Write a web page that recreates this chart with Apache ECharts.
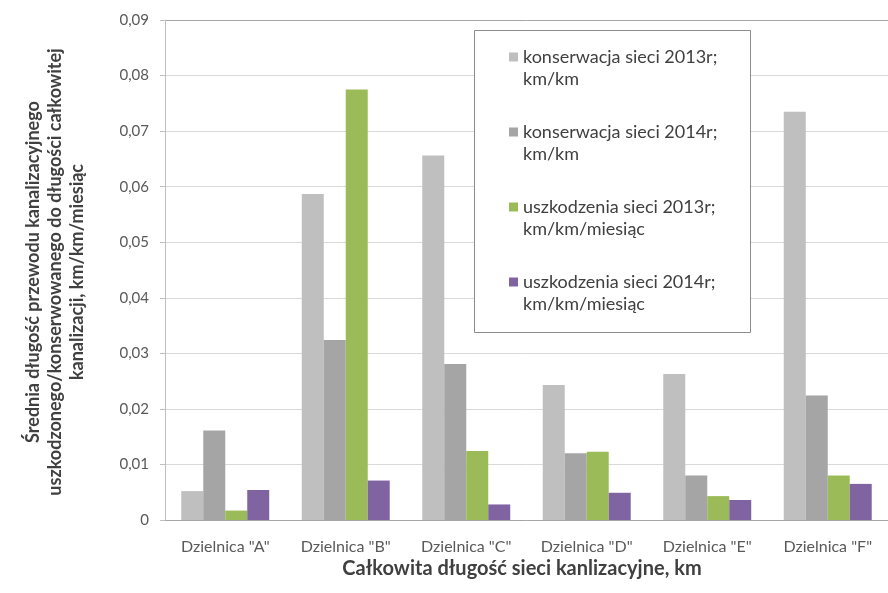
<!DOCTYPE html>
<html>
<head>
<meta charset="utf-8">
<title>Dzielnice - konserwacja i uszkodzenia sieci</title>
<script src="https://cdn.jsdelivr.net/npm/echarts@6/dist/echarts.min.js"></script>
<style>
  html, body { margin: 0; padding: 0; background: #fff; }
  #chart { width: 888px; height: 593px; }
</style>
</head>
<body>
<div id="chart"></div>
<script>
// dane
var dzielnice = ['Dzielnica "A"', 'Dzielnica "B"', 'Dzielnica "C"', 'Dzielnica "D"', 'Dzielnica "E"', 'Dzielnica "F"'];
var nazwySerii = [
    'konserwacja sieci 2013r; km/km',
    'konserwacja sieci 2014r; km/km',
    'uszkodzenia sieci 2013r; km/km/miesiąc',
    'uszkodzenia sieci 2014r; km/km/miesiąc'
];
var konserwacja2013 = [0.0052, 0.0587, 0.0656, 0.0243, 0.0263, 0.0735];
var konserwacja2014 = [0.0161, 0.0324, 0.0281, 0.0120, 0.0080, 0.0224];
var uszkodzenia2013 = [0.0017, 0.0775, 0.0124, 0.0123, 0.0043, 0.0080];
var uszkodzenia2014 = [0.0054, 0.0071, 0.0028, 0.0049, 0.0036, 0.0065];
var kolory = ['#bfbfbf', '#a5a5a5', '#9bbb59', '#8064a2'];

var wykres = echarts.init(document.getElementById('chart'));
var font = 'Lato, "Open Sans", sans-serif';

var dane = [konserwacja2013, konserwacja2014, uszkodzenia2013, uszkodzenia2014];
var serie = [];
for (var i = 0; i < dane.length; i++) {
    serie.push({
        name: nazwySerii[i],
        type: 'bar',
        data: dane[i],
        barGap: '0%',
        barCategoryGap: '27%',
        itemStyle: { color: kolory[i] }
    });
}

// linie siatki - najwyzsza ciemniejsza (ramka)
var koloryLinii = ['#d9d9d9', '#d9d9d9', '#d9d9d9', '#d9d9d9', '#d9d9d9',
                   '#d9d9d9', '#d9d9d9', '#d9d9d9', '#d9d9d9', '#a6a6a6'];

var option = {
    animation: false,
    color: kolory,
    grid: { left: 165, top: 20, width: 739, height: 500 },
    legend: {
        orient: 'vertical',
        left: 509,
        top: 24,
        padding: 0,
        itemWidth: 9,
        itemHeight: 9,
        itemGap: 9,
        icon: 'rect',
        z: 5,
        data: nazwySerii,
        formatter: function (n) { return '\n' + n.replace('; ', ';\n'); },
        textStyle: { fontFamily: font, fontSize: 18, color: '#404040', lineHeight: 22 }
    },
    graphic: [
        {
            type: 'rect', z: 3,
            shape: { x: 474.5, y: 30.5, width: 276, height: 302 },
            style: { fill: '#fff', stroke: '#8c8c8c', lineWidth: 1 }
        },
        {
            type: 'text', z: 5,
            x: 55, y: 272, rotation: Math.PI / 2,
            style: {
                text: 'Średnia długość przewodu kanalizacyjnego\nuszkodzonego/konserwowanego do długości całkowitej\nkanalizacji, km/km/miesiąc',
                fontFamily: font, fontSize: 18, fontWeight: 'bold', fill: '#404040',
                align: 'center', verticalAlign: 'middle', lineHeight: 22
            }
        },
        {
            type: 'text', z: 5,
            x: 522, y: 569,
            style: {
                text: 'Całkowita długość sieci kanlizacyjne, km',
                fontFamily: font, fontSize: 20, fontWeight: 'bold', fill: '#404040',
                align: 'center', verticalAlign: 'middle'
            }
        }
    ],
    xAxis: {
        type: 'category',
        data: dzielnice,
        axisLine: { lineStyle: { color: '#a6a6a6' } },
        axisTick: { length: 5, lineStyle: { color: '#a6a6a6' } },
        axisLabel: { fontFamily: font, fontSize: 16, color: '#595959', margin: 19 }
    },
    yAxis: {
        type: 'value',
        min: 0,
        max: 0.09,
        interval: 0.01,
        axisLine: { show: true, lineStyle: { color: '#bfbfbf' } },
        axisTick: { show: true, length: 5, lineStyle: { color: '#bfbfbf' } },
        splitLine: { lineStyle: { color: koloryLinii } },
        axisLabel: {
            fontFamily: font, fontSize: 15, color: '#595959', margin: 16,
            formatter: function (v) { return v === 0 ? '0' : v.toFixed(2).replace('.', ','); }
        }
    },
    series: serie
};

wykres.setOption(option);
</script>
</body>
</html>
